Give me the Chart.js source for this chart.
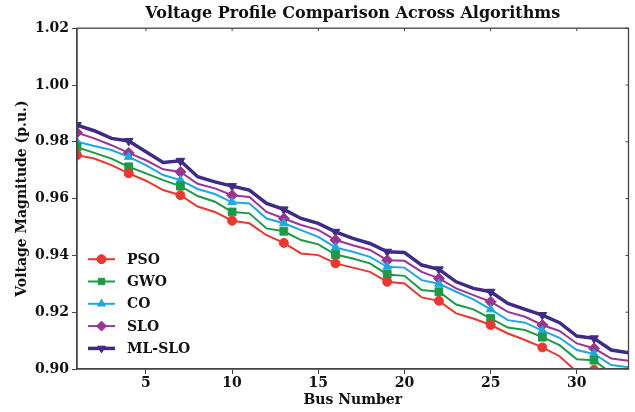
<!DOCTYPE html>
<html>
<head>
<meta charset="utf-8">
<script src="https://cdn.jsdelivr.net/npm/chart.js@4.4.0/dist/chart.umd.min.js"></script>
<style>
  html, body { margin: 0; padding: 0; background: #fff; }
  #wrap { width: 635px; height: 412px; }
</style>
</head>
<body>
<div id="wrap"><canvas id="voltageChart" width="635" height="412"></canvas></div>
<script>
// bus numbers and voltage profiles (p.u.)
const buses = [1, 2, 3, 4, 5, 6, 7, 8, 9, 10, 11, 12, 13, 14, 15, 16, 17,
               18, 19, 20, 21, 22, 23, 24, 25, 26, 27, 28, 29, 30, 31, 32, 33];

const pso = [0.9753, 0.9741, 0.9718, 0.9689, 0.9663, 0.9630, 0.9612, 0.9572, 0.9553, 0.9522, 0.9513,
             0.9471, 0.9444, 0.9407, 0.9401, 0.9372, 0.9357, 0.9342, 0.9307, 0.9301, 0.9252, 0.9240,
             0.9196, 0.9178, 0.9155, 0.9125, 0.9102, 0.9076, 0.9045, 0.8990, 0.8997, 0.8970, 0.8962];
const gwo = [0.9781, 0.9761, 0.9741, 0.9712, 0.9689, 0.9665, 0.9644, 0.9609, 0.9589, 0.9553, 0.9548,
             0.9495, 0.9485, 0.9454, 0.9439, 0.9403, 0.9389, 0.9372, 0.9333, 0.9328, 0.9278, 0.9272,
             0.9227, 0.9210, 0.9178, 0.9146, 0.9137, 0.9112, 0.9084, 0.9034, 0.9031, 0.8985, 0.8975];
const co = [0.9800, 0.9785, 0.9771, 0.9747, 0.9718, 0.9683, 0.9665, 0.9634, 0.9616, 0.9587, 0.9583,
            0.9530, 0.9513, 0.9489, 0.9465, 0.9428, 0.9413, 0.9395, 0.9360, 0.9357, 0.9313, 0.9300,
            0.9272, 0.9245, 0.9210, 0.9172, 0.9163, 0.9135, 0.9110, 0.9067, 0.9053, 0.9014, 0.9006];
const slo = [0.9832, 0.9812, 0.9788, 0.9761, 0.9735, 0.9703, 0.9694, 0.9652, 0.9636, 0.9612, 0.9606,
             0.9553, 0.9530, 0.9507, 0.9490, 0.9454, 0.9436, 0.9419, 0.9383, 0.9381, 0.9342, 0.9319,
             0.9284, 0.9260, 0.9237, 0.9201, 0.9184, 0.9155, 0.9134, 0.9090, 0.9073, 0.9037, 0.9029];
const mlSlo = [0.9859, 0.9839, 0.9812, 0.9803, 0.9765, 0.9727, 0.9733, 0.9677, 0.9659, 0.9644, 0.9630,
               0.9583, 0.9562, 0.9530, 0.9513, 0.9483, 0.9460, 0.9442, 0.9413, 0.9410, 0.9366, 0.9351,
               0.9307, 0.9284, 0.9272, 0.9231, 0.9210, 0.9190, 0.9163, 0.9116, 0.9108, 0.9067, 0.9057];

const xTicks = [5, 10, 15, 20, 25, 30];
const yTicks = [0.90, 0.92, 0.94, 0.96, 0.98, 1.00, 1.02];

const AXIS = '#444';
Chart.defaults.font.family = "'DejaVu Serif', 'Liberation Serif', serif";
Chart.defaults.font.weight = 'bold';
Chart.defaults.color = '#111';

function series(label, values, color, style, radius, width, rotation) {
    return {
        label: label,
        data: buses.map((b, i) => ({ x: b, y: values[i] })),
        borderColor: color,
        backgroundColor: color,
        borderWidth: width,
        pointStyle: style,
        pointRotation: rotation || 0,
        pointBorderWidth: 1,
        // markers on every third bus
        pointRadius: c => (c.dataIndex % 3 === 0 ? radius : 0),
        pointHoverRadius: 0,
        tension: 0
    };
}

// frame on all four sides, small inward ticks on top and right
const frame = {
    id: 'frame',
    afterDatasetsDraw(chart) {
        const { ctx, chartArea: a, scales } = chart;
        ctx.save();
        ctx.strokeStyle = AXIS;
        ctx.lineWidth = 1.3;
        ctx.strokeRect(a.left, a.top, a.right - a.left, a.bottom - a.top);
        ctx.lineWidth = 1;
        ctx.beginPath();
        xTicks.forEach(v => {
            const px = scales.x.getPixelForValue(v);
            ctx.moveTo(px, a.top); ctx.lineTo(px, a.top + 3);
        });
        yTicks.forEach(v => {
            const py = scales.y.getPixelForValue(v);
            ctx.moveTo(a.right, py); ctx.lineTo(a.right - 3, py);
        });
        ctx.stroke();
        ctx.restore();
    }
};

// legend drawn inside the plot, lower left
const innerLegend = {
    id: 'innerLegend',
    afterDraw(chart) {
        const { ctx, chartArea: a } = chart;
        ctx.save();
        ctx.font = "bold 14px 'DejaVu Serif', serif";
        ctx.textBaseline = 'middle';
        chart.data.datasets.forEach((ds, i) => {
            const y = a.top + 231 + i * 22.3;
            const x0 = a.left + 11, x1 = a.left + 38;
            ctx.strokeStyle = ds.borderColor;
            ctx.fillStyle = ds.backgroundColor;
            ctx.lineWidth = ds.borderWidth;
            ctx.beginPath(); ctx.moveTo(x0, y); ctx.lineTo(x1, y); ctx.stroke();
            ctx.lineWidth = 1;
            Chart.helpers.drawPoint(ctx, {
                pointStyle: ds.pointStyle,
                rotation: ds.pointRotation,
                radius: ds.label === 'SLO' ? 5 : 4.5,
                borderWidth: 1
            }, (x0 + x1) / 2, y);
            ctx.fillStyle = '#111';
            ctx.fillText(ds.label, a.left + 50, y + 1);
        });
        ctx.restore();
    }
};

new Chart(document.getElementById('voltageChart').getContext('2d'), {
    type: 'line',
    data: {
        datasets: [
            series('PSO', pso, '#e8382f', 'circle', 4.5, 2),
            series('GWO', gwo, '#1c9a48', 'rect', 5.5, 2),
            series('CO', co, '#21a7df', 'triangle', 5, 2),
            series('SLO', slo, '#9a3592', 'rectRot', 5.5, 2),
            series('ML-SLO', mlSlo, '#3f2a85', 'triangle', 5, 3.5, 180)
        ]
    },
    options: {
        responsive: false,
        animation: false,
        events: [],
        layout: { padding: { left: 4, right: 6, top: 0, bottom: 0 } },
        scales: {
            x: {
                type: 'linear',
                min: 1,
                max: 33,
                afterBuildTicks: s => { s.ticks = xTicks.map(v => ({ value: v })); },
                afterFit: s => { s.height = 43; },
                ticks: { font: { size: 14 }, padding: 1, callback: v => v },
                grid: { drawOnChartArea: false, tickLength: 5, color: AXIS },
                border: { color: AXIS, width: 1.3 },
                title: { display: true, text: 'Bus Number', font: { size: 14 }, padding: { top: 0, bottom: 3 } }
            },
            y: {
                min: 0.90,
                max: 1.02,
                afterBuildTicks: s => { s.ticks = yTicks.map(v => ({ value: v })); },
                afterFit: s => { s.width = 73; },
                ticks: { font: { size: 14 }, padding: 3, callback: v => v.toFixed(2) },
                grid: { drawOnChartArea: false, tickLength: 5, color: AXIS },
                border: { color: AXIS, width: 1.3 },
                title: { display: true, text: 'Voltage Magnitude (p.u.)', font: { size: 14 }, padding: { top: 10, bottom: 0 } }
            }
        },
        plugins: {
            legend: { display: false },
            tooltip: { enabled: false },
            title: {
                display: true,
                fullSize: false,
                text: 'Voltage Profile Comparison Across Algorithms',
                font: { size: 16, weight: 'bold' },
                color: '#111',
                padding: { top: 4, bottom: 5 }
            }
        }
    },
    plugins: [frame, innerLegend]
});
</script>
</body>
</html>
